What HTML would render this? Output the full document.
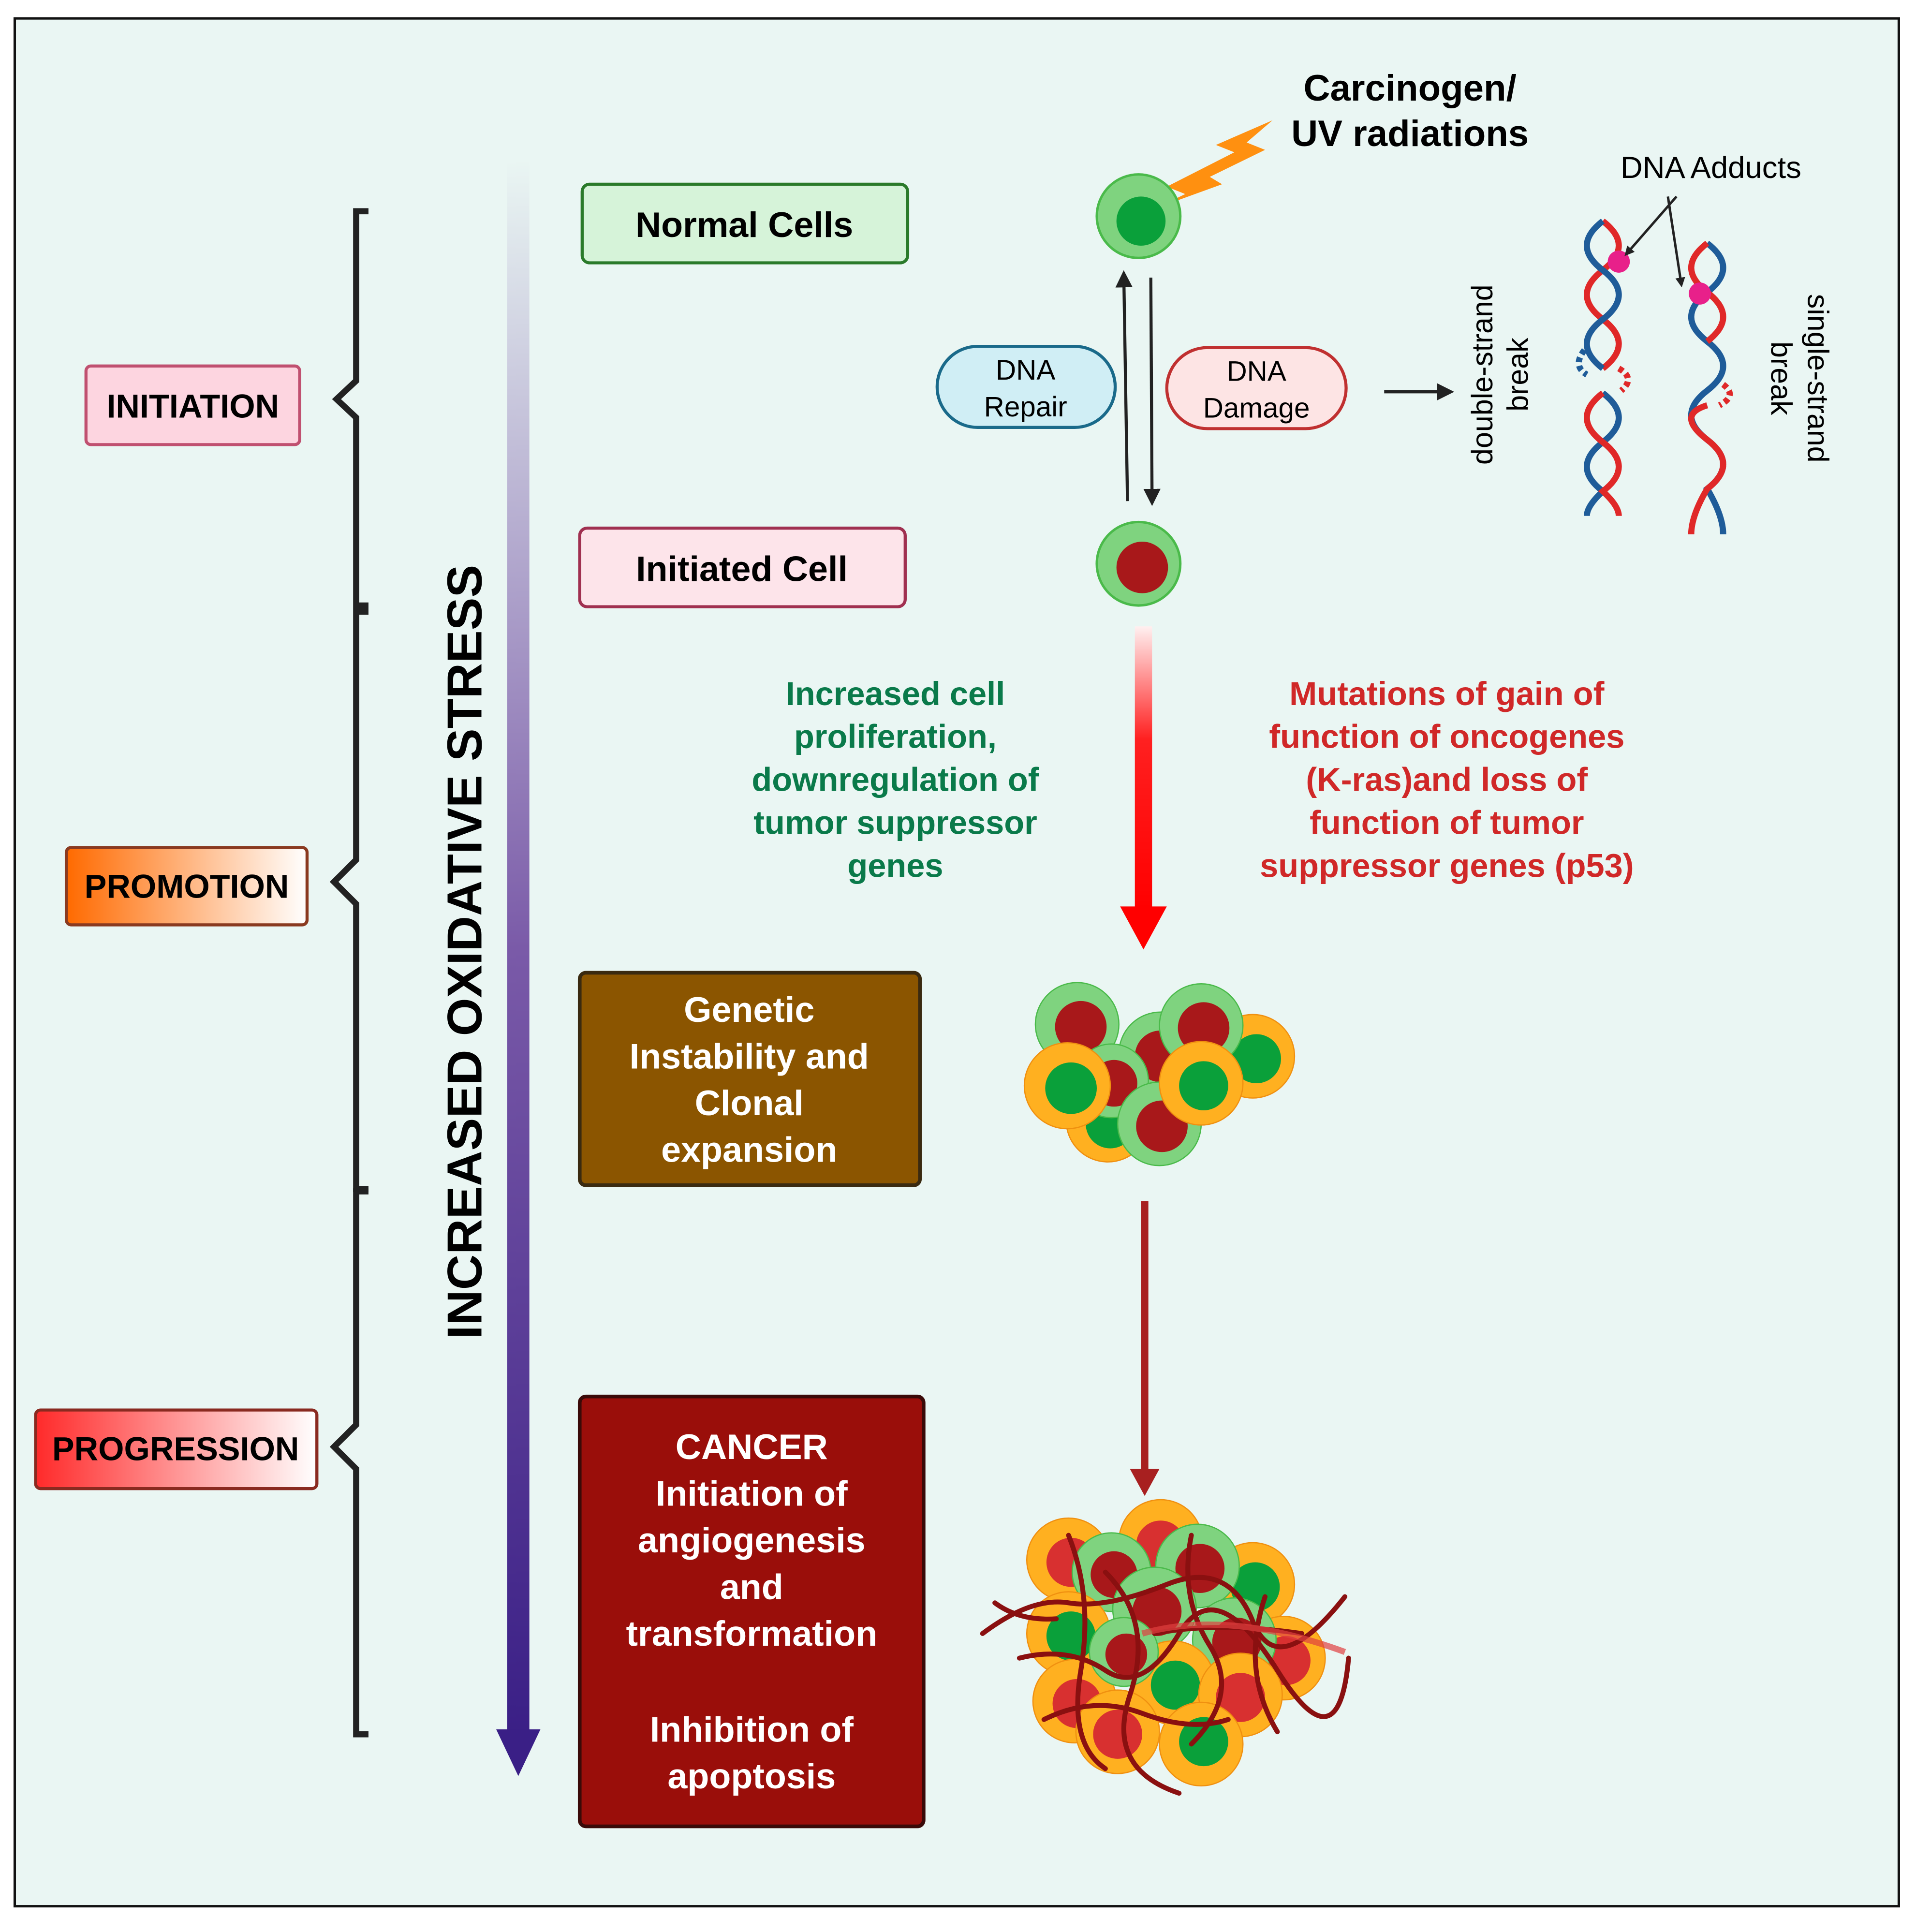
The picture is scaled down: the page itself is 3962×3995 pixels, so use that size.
<!DOCTYPE html>
<html><head><meta charset="utf-8"><style>
html,body{margin:0;padding:0;background:#fff}
svg{display:block}
text{font-family:"Liberation Sans",sans-serif}
</style></head><body>
<svg width="3962" height="3995" viewBox="0 0 1560 1573" xmlns="http://www.w3.org/2000/svg">
<defs>
<linearGradient id="vg" x1="0" y1="0" x2="0" y2="1">
<stop offset="0" stop-color="#eaf6f3"/><stop offset="0.5" stop-color="#7a5aa8"/><stop offset="1" stop-color="#3a1f86"/></linearGradient>
<linearGradient id="rg" x1="0" y1="0" x2="0" y2="1">
<stop offset="0" stop-color="#fff0f0"/><stop offset="0.4" stop-color="#ff2020"/><stop offset="1" stop-color="#ff0000"/></linearGradient>
<linearGradient id="og" x1="0" y1="0" x2="1" y2="0">
<stop offset="0" stop-color="#ff6a00"/><stop offset="1" stop-color="#ffffff"/></linearGradient>
<linearGradient id="pg" x1="0" y1="0" x2="1" y2="0">
<stop offset="0" stop-color="#ff2a2a"/><stop offset="1" stop-color="#ffffff"/></linearGradient>
<marker id="ah" markerWidth="8" markerHeight="8" refX="6" refY="4" orient="auto" markerUnits="userSpaceOnUse"><path d="M0,0 L8,4 L0,8 z" fill="#222"/></marker>
<marker id="ah2" markerWidth="14" markerHeight="14" refX="10" refY="7" orient="auto" markerUnits="userSpaceOnUse"><path d="M0,0 L14,7 L0,14 z" fill="#222"/></marker>
</defs>
<rect width="1560" height="1573" fill="#fff"/>
<rect x="12" y="15" width="1534" height="1537" fill="#eaf6f3" stroke="#111" stroke-width="2"/>

<g fill="none" stroke="#222" stroke-width="5">
<path d="M300,172 H290 V310 L274,325 L290,340 V493 H300"/>
<path d="M300,498 H290 V700 L272,718 L290,736 V968 H300"/>
<path d="M300,970 H290 V1160 L272,1178 L290,1196 V1412 H300"/>
</g>

<rect x="70" y="298" width="174" height="64" rx="4" fill="#fdd5e0" stroke="#c05070" stroke-width="2.5"/>
<text x="157" y="340" font-size="27" font-weight="bold" text-anchor="middle">INITIATION</text>
<rect x="54" y="690" width="196" height="63" rx="4" fill="url(#og)" stroke="#8a3a20" stroke-width="2.5"/>
<text x="152" y="731" font-size="27" font-weight="bold" text-anchor="middle">PROMOTION</text>
<rect x="29" y="1148" width="229" height="64" rx="4" fill="url(#pg)" stroke="#8a2a20" stroke-width="2.5"/>
<text x="143" y="1189" font-size="27" font-weight="bold" text-anchor="middle">PROGRESSION</text>

<rect x="413" y="130" width="18" height="1285" fill="url(#vg)"/>
<path d="M404,1408 L440,1408 L422,1446 z" fill="#3a1f86"/>
<text transform="translate(392,775) rotate(-90)" font-size="40" font-weight="bold" text-anchor="middle">INCREASED OXIDATIVE STRESS</text>

<rect x="474" y="150" width="265" height="64" rx="6" fill="#d6f3d9" stroke="#2a7a2a" stroke-width="2.5"/>
<text x="606" y="193" font-size="29" font-weight="bold" text-anchor="middle">Normal Cells</text>
<rect x="472" y="430" width="265" height="64" rx="6" fill="#fde4ea" stroke="#a03050" stroke-width="2.5"/>
<text x="604" y="473" font-size="29" font-weight="bold" text-anchor="middle">Initiated Cell</text>
<rect x="472" y="792" width="277" height="173" rx="5" fill="#8b5500" stroke="#3a2a10" stroke-width="3"/>
<g font-size="29" font-weight="bold" fill="#fff" text-anchor="middle">
<text x="610" y="832">Genetic</text><text x="610" y="870">Instability and</text><text x="610" y="908">Clonal</text><text x="610" y="946">expansion</text>
</g>
<rect x="472" y="1137" width="280" height="350" rx="5" fill="#9a0e0a" stroke="#3a0a08" stroke-width="3"/>
<g font-size="29" font-weight="bold" fill="#fff" text-anchor="middle">
<text x="612" y="1188">CANCER</text><text x="612" y="1226">Initiation of</text><text x="612" y="1264">angiogenesis</text><text x="612" y="1302">and</text><text x="612" y="1340">transformation</text><text x="612" y="1418">Inhibition of</text><text x="612" y="1456">apoptosis</text>
</g>

<path d="M1036,98 L990,118 L1005,124 L950,152 L965,158 L940,170 L995,150 L985,144 L1030,122 L1015,116 z" fill="#ff9010"/>
<text x="1148" y="82" font-size="30" font-weight="bold" text-anchor="middle">Carcinogen/</text>
<text x="1148" y="119" font-size="30" font-weight="bold" text-anchor="middle">UV radiations</text>

<circle cx="927" cy="176" r="34" fill="#7fd37f" stroke="#4aba4a" stroke-width="2"/><circle cx="929" cy="180" r="20" fill="#0aa03a"/>
<circle cx="927" cy="459" r="34" fill="#7fd37f" stroke="#4aba4a" stroke-width="2"/><circle cx="930" cy="462" r="21" fill="#a8181a"/>

<line x1="918" y1="408" x2="915" y2="224" stroke="#222" stroke-width="2.5" marker-end="url(#ah2)"/>
<line x1="937" y1="226" x2="938" y2="408" stroke="#222" stroke-width="2.5" marker-end="url(#ah2)"/>
<rect x="763" y="282" width="145" height="66" rx="33" fill="#d0eef5" stroke="#1a6a8a" stroke-width="2.5"/>
<text x="835" y="309" font-size="23" text-anchor="middle">DNA</text><text x="835" y="339" font-size="23" text-anchor="middle">Repair</text>
<rect x="950" y="283" width="146" height="66" rx="33" fill="#fde4e4" stroke="#c03030" stroke-width="2.5"/>
<text x="1023" y="310" font-size="23" text-anchor="middle">DNA</text><text x="1023" y="340" font-size="23" text-anchor="middle">Damage</text>
<line x1="1127" y1="319" x2="1180" y2="319" stroke="#222" stroke-width="2.5" marker-end="url(#ah2)"/>
<text transform="translate(1215,305) rotate(-90)" font-size="24" text-anchor="middle">double-strand</text>
<text transform="translate(1244,305) rotate(-90)" font-size="24" text-anchor="middle">break</text>
<text transform="translate(1472,308) rotate(90)" font-size="24" text-anchor="middle">single-strand</text>
<text transform="translate(1442,308) rotate(90)" font-size="24" text-anchor="middle">break</text>

<g fill="none" stroke-width="5">
<path d="M1305,180 Q1331,200 1305,220 T1305,260 T1305,300" stroke="#e02828"/>
<path d="M1305,180 Q1279,200 1305,220 T1305,260 T1305,300" stroke="#1f5c99"/>
<path d="M1305,320 Q1331,340 1305,360 T1305,400 Q1292,412 1292,420" stroke="#1f5c99"/>
<path d="M1305,320 Q1279,340 1305,360 T1305,400 Q1318,412 1318,420" stroke="#e02828"/>
<path d="M1390,198 Q1416,218 1390,238 T1390,278 T1390,318 T1390,358 T1390,398 Q1403,420 1403,435" stroke="#1f5c99"/>
<path d="M1390,198 Q1364,218 1390,238 T1390,278 M1390,330 Q1364,338 1390,358 T1390,398 Q1377,420 1377,435" stroke="#e02828"/>
<path d="M1290,285 Q1280,298 1292,305" stroke="#1f5c99" stroke-dasharray="4,3"/>
<path d="M1318,300 Q1332,308 1320,318" stroke="#e02828" stroke-dasharray="4,3"/>
<path d="M1403,313 Q1415,322 1400,330" stroke="#e02828" stroke-dasharray="4,3"/>
</g>
<circle cx="1318" cy="213" r="9" fill="#e8208a"/><circle cx="1384" cy="239" r="9" fill="#e8208a"/>
<text x="1393" y="145" font-size="25" text-anchor="middle">DNA Adducts</text>
<line x1="1365" y1="160" x2="1324" y2="207" stroke="#222" stroke-width="2" marker-end="url(#ah)"/>
<line x1="1358" y1="160" x2="1369" y2="232" stroke="#222" stroke-width="2" marker-end="url(#ah)"/>

<rect x="924" y="510" width="14" height="230" fill="url(#rg)"/>
<path d="M912,738 L950,738 L931,773 z" fill="#ff0000"/>
<g font-size="27" font-weight="bold" fill="#0a7a4a" text-anchor="middle">
<text x="729" y="574">Increased cell</text><text x="729" y="609">proliferation,</text><text x="729" y="644">downregulation of</text><text x="729" y="679">tumor suppressor</text><text x="729" y="714">genes</text>
</g>
<g font-size="27" font-weight="bold" fill="#d02828" text-anchor="middle">
<text x="1178" y="574">Mutations of gain of</text><text x="1178" y="609">function of oncogenes</text><text x="1178" y="644">(K-ras)and loss of</text><text x="1178" y="679">function of tumor</text><text x="1178" y="714">suppressor genes (p53)</text>
</g>

<g>
<circle cx="902" cy="912" r="34" fill="#ffb020" stroke="#f09010"/><circle cx="904" cy="915" r="20" fill="#0aa03a"/>
<circle cx="877" cy="834" r="34" fill="#7fd37f" stroke="#4aba4a"/><circle cx="880" cy="836" r="21" fill="#a8181a"/>
<circle cx="1020" cy="860" r="34" fill="#ffb020" stroke="#f09010"/><circle cx="1023" cy="862" r="20" fill="#0aa03a"/>
<circle cx="945" cy="858" r="34" fill="#7fd37f" stroke="#4aba4a"/><circle cx="945" cy="860" r="21" fill="#a8181a"/>
<circle cx="978" cy="835" r="34" fill="#7fd37f" stroke="#4aba4a"/><circle cx="980" cy="837" r="21" fill="#a8181a"/>
<circle cx="905" cy="880" r="30" fill="#7fd37f" stroke="#4aba4a"/><circle cx="907" cy="882" r="19" fill="#a8181a"/>
<circle cx="869" cy="884" r="35" fill="#ffb020" stroke="#f09010"/><circle cx="872" cy="886" r="21" fill="#0aa03a"/>
<circle cx="944" cy="915" r="34" fill="#7fd37f" stroke="#4aba4a"/><circle cx="946" cy="917" r="21" fill="#a8181a"/>
<circle cx="978" cy="882" r="34" fill="#ffb020" stroke="#f09010"/><circle cx="980" cy="884" r="20" fill="#0aa03a"/>
</g>

<line x1="932" y1="978" x2="932" y2="1200" stroke="#a82020" stroke-width="6"/>
<path d="M920,1196 L944,1196 L932,1218 z" fill="#a82020"/>

<g>
<circle cx="945" cy="1255" r="34" fill="#ffb020" stroke="#f09010"/><circle cx="945" cy="1258" r="20" fill="#d83030"/>
<circle cx="870" cy="1270" r="34" fill="#ffb020" stroke="#f09010"/><circle cx="872" cy="1272" r="20" fill="#d83030"/>
<circle cx="1020" cy="1290" r="34" fill="#ffb020" stroke="#f09010"/><circle cx="1022" cy="1292" r="20" fill="#0aa03a"/>
<circle cx="905" cy="1280" r="32" fill="#7fd37f" stroke="#4aba4a"/><circle cx="907" cy="1282" r="19" fill="#a8181a"/>
<circle cx="975" cy="1275" r="34" fill="#7fd37f" stroke="#4aba4a"/><circle cx="977" cy="1277" r="20" fill="#a8181a"/>
<circle cx="870" cy="1330" r="34" fill="#ffb020" stroke="#f09010"/><circle cx="872" cy="1332" r="20" fill="#0aa03a"/>
<circle cx="1045" cy="1350" r="34" fill="#ffb020" stroke="#f09010"/><circle cx="1047" cy="1352" r="20" fill="#d83030"/>
<circle cx="940" cy="1310" r="34" fill="#7fd37f" stroke="#4aba4a"/><circle cx="942" cy="1312" r="20" fill="#a8181a"/>
<circle cx="1005" cy="1335" r="34" fill="#7fd37f" stroke="#4aba4a"/><circle cx="1007" cy="1337" r="20" fill="#a8181a"/>
<circle cx="875" cy="1385" r="34" fill="#ffb020" stroke="#f09010"/><circle cx="877" cy="1387" r="20" fill="#d83030"/>
<circle cx="955" cy="1370" r="34" fill="#ffb020" stroke="#f09010"/><circle cx="957" cy="1372" r="20" fill="#0aa03a"/>
<circle cx="1010" cy="1380" r="34" fill="#ffb020" stroke="#f09010"/><circle cx="1010" cy="1382" r="20" fill="#d83030"/>
<circle cx="910" cy="1410" r="34" fill="#ffb020" stroke="#f09010"/><circle cx="910" cy="1412" r="20" fill="#d83030"/>
<circle cx="978" cy="1420" r="34" fill="#ffb020" stroke="#f09010"/><circle cx="980" cy="1418" r="20" fill="#0aa03a"/>
<circle cx="915" cy="1345" r="28" fill="#7fd37f" stroke="#4aba4a"/><circle cx="917" cy="1347" r="17" fill="#a8181a"/>
</g>
<g fill="none" stroke="#8a1010" stroke-width="4" stroke-linecap="round">
<path d="M800,1330 Q840,1300 870,1305 T950,1290 T1020,1320 T1095,1300"/>
<path d="M810,1305 Q830,1320 860,1318"/>
<path d="M830,1350 Q870,1340 900,1360 T960,1330 T1040,1360 T1098,1350"/>
<path d="M870,1250 Q890,1300 880,1360 T900,1440"/>
<path d="M970,1250 Q960,1300 985,1340 T970,1420"/>
<path d="M900,1280 Q940,1320 920,1380 T960,1460"/>
<path d="M1030,1300 Q1010,1360 1040,1410"/>
<path d="M940,1330 Q990,1320 1060,1330"/>
<path d="M850,1400 Q890,1380 930,1395 T1000,1400"/>
</g>
<path d="M930,1330 Q1000,1310 1095,1345" fill="none" stroke="#e04040" stroke-width="5" opacity="0.7"/>
</svg>
</body></html>
